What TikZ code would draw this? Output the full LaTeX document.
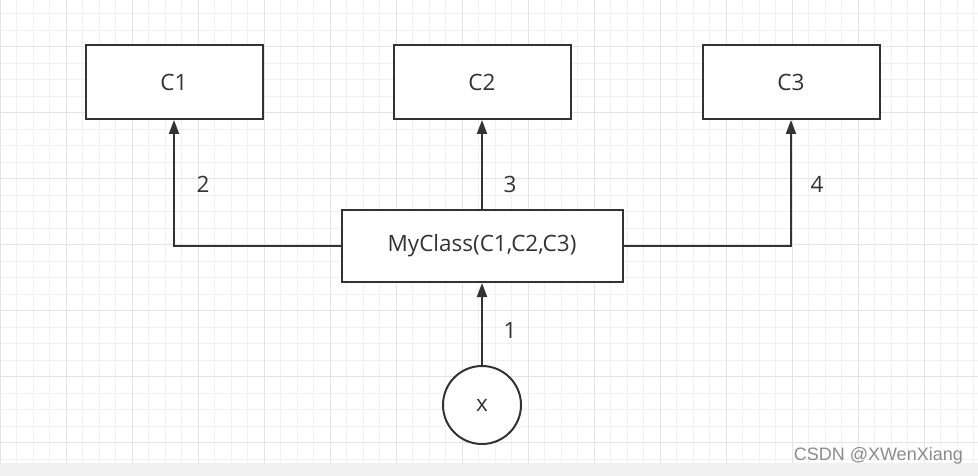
\documentclass[tikz,border=0pt]{standalone}
\usepackage{fontspec}
\setmainfont{Open Sans}
\newfontfamily\wmfont{Liberation Sans}
\usetikzlibrary{arrows.meta}
\definecolor{ink}{HTML}{333333}
\definecolor{gridminor}{HTML}{F0F0F0}
\definecolor{gridmajor}{HTML}{E4E4E4}
\definecolor{strip}{HTML}{F0F0F0}
\definecolor{wm}{HTML}{8C8C8C}
\tikzset{
  box/.style={draw=ink, line width=2pt, fill=white, minimum width=177pt, minimum height=74pt, inner sep=0pt, text=ink, font=\fontsize{22.5}{27}\selectfont},
  roundbox/.style={draw=ink, line width=2pt, fill=white, circle, minimum size=78pt, inner sep=0pt, text=ink, font=\fontsize{22.5}{27}\selectfont},
  conn/.style={draw=ink, line width=2pt, -{Triangle[length=14pt, width=10pt]}},
  lbl/.style={text=ink, inner sep=0pt, font=\fontsize{22.5}{27}\selectfont},
  minorline/.style={draw=gridminor, line width=1pt},
  majorline/.style={draw=gridmajor, line width=1pt}
}
\begin{document}
\begin{tikzpicture}[x=1pt,y=-1pt]
\useasboundingbox (0,0) rectangle (978,476);
\fill[white] (0,0) rectangle (978,476);
% grid
\foreach \i in {0,...,59} \draw[minorline] (16.5*\i,0) -- (16.5*\i,463);
\foreach \j in {0,...,27} \draw[minorline] (0,13.7+16.5*\j) -- (978,13.7+16.5*\j);
\foreach \i in {0,...,14} \draw[majorline] (66*\i,0) -- (66*\i,463);
\foreach \j in {1,...,7} \draw[majorline] (0,-19.3+66*\j) -- (978,-19.3+66*\j);
\fill[strip] (0,463) rectangle (978,476);
% nodes
\node[box] (c1) at (174,82) {C1};
\node[box] (c2) at (482,82) {C2};
\node[box] (c3) at (791,82) {C3};
\node[box, minimum width=281pt, minimum height=72pt] (my) at (482,246) {MyClass(C1,C2,C3)};
\node[roundbox] (x) at (482,405) {x};
% connectors
\draw[conn] (my.west) -| (c1.south);
\draw[conn] (my.north) -- (c2.south);
\draw[conn] (my.east) -| (c3.south);
\draw[conn] (x.north) -- (my.south);
% labels
\node[lbl] (l2) at (203,184) {2};
\node[lbl] (l3) at (510,184) {3};
\node[lbl] (l4) at (817,184) {4};
\node[lbl] (l1) at (510,330) {1};
% watermark
\node[anchor=east, inner sep=0pt, text=wm, font=\wmfont\fontsize{18}{18}\selectfont] (wmark) at (963,456) {CSDN @XWenXiang};
\end{tikzpicture}
\end{document}
